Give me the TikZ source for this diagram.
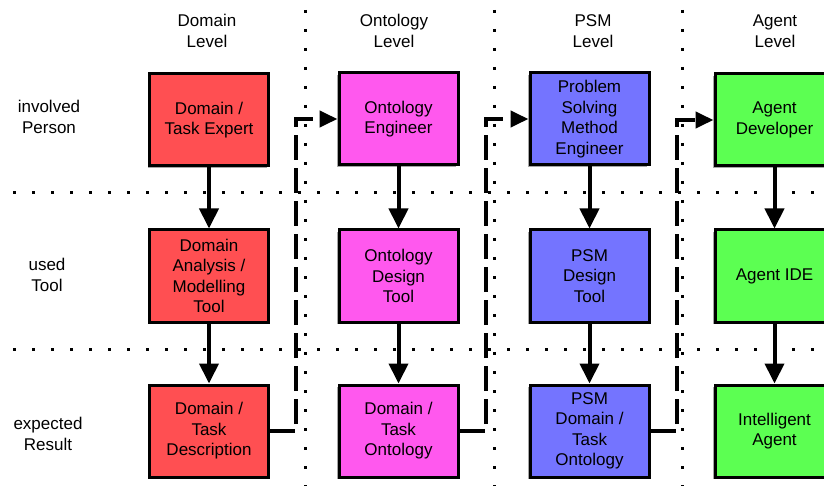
\documentclass[tikz,border=0pt]{standalone}
\usepackage{fontspec}
\setmainfont{Liberation Sans}
\usetikzlibrary{arrows.meta,shadows}

\definecolor{domred}{HTML}{FF4F52}
\definecolor{ontomag}{HTML}{FF58EE}
\definecolor{psmblue}{HTML}{7474FF}
\definecolor{agentgreen}{HTML}{5CFF52}

\begin{document}
\begin{tikzpicture}[
x=1pt,y=-1pt,
font=\fontsize{17}{20.5}\selectfont,
box/.style={%
    rectangle,
    minimum width=119pt,
    minimum height=92pt,
    inner sep=1pt,
    align=center,
    line width=3pt,
    draw=black,
    fill=#1,
    drop shadow={shadow xshift=-2pt,shadow yshift=-2pt,fill=black!35,opacity=1},
},
label/.style={%
    align=center,
    inner sep=0pt,
},
flow/.style={%
    line width=4pt,
    -{Triangle[length=20pt,width=19pt]},
},
feedback/.style={%
    line width=4pt,
    dash pattern=on 25pt off 8pt,
    -{Triangle[length=18pt,width=16pt]},
},
separator/.style={%
    line width=3pt,
    dash pattern=on 3pt off 16pt,
},
]
\clip (0,0) rectangle (824,486);

% Separators
\draw[separator] (13,193) -- (824,193);
\draw[separator] (13,349) -- (824,349);
\draw[separator] (305,10) -- (305,486);
\draw[separator] (494,10) -- (494,486);
\draw[separator] (682,10) -- (682,486);

% Headers
\node[label] at (207,31)  (domhead)   {Domain\\Level};
\node[label] at (394,31)  (ontohead)  {Ontology\\Level};
\node[label] at (593,31)  (psmhead)   {PSM\\Level};
\node[label] at (775,31)  (agenthead) {Agent\\Level};

\node[label] at (49,117)  (personrow) {involved\\Person};
\node[label] at (47,275)  (toolrow)   {used\\Tool};
\node[label] at (48,434)  (resultrow) {expected\\Result};

% Nodes
\node[box=domred]     at (209,120)   (domperson)   {Domain /\\Task Expert};
\node[box=domred]     at (209,276)   (domtool)     {Domain\\Analysis /\\Modelling\\Tool};
\node[box=domred]     at (209,431)   (domresult)   {Domain /\\Task\\Description};

\node[box=ontomag]    at (398.5,119) (ontoperson)  {Ontology\\Engineer};
\node[box=ontomag]    at (398.5,276) (ontotool)    {Ontology\\Design\\Tool};
\node[box=ontomag]    at (398.5,431) (ontoresult)  {Domain /\\Task\\Ontology};

\node[box=psmblue]    at (589.5,119) (psmperson)   {Problem\\Solving\\Method\\Engineer};
\node[box=psmblue]    at (589.5,276) (psmtool)     {PSM\\Design\\Tool};
\node[box=psmblue]    at (589.5,431) (psmresult)   {PSM\\Domain /\\Task\\Ontology};

\node[box=agentgreen] at (774.5,120) (agentperson) {Agent\\Developer};
\node[box=agentgreen] at (774.5,276) (agenttool)   {Agent IDE};
\node[box=agentgreen] at (774.5,431) (agentresult) {Intelligent\\Agent};

% Lines
\draw[flow] (domperson) -- (domtool);
\draw[flow] (domtool) -- (domresult);
\draw[flow] (ontoperson) -- (ontotool);
\draw[flow] (ontotool) -- (ontoresult);
\draw[flow] (psmperson) -- (psmtool);
\draw[flow] (psmtool) -- (psmresult);
\draw[flow] (agentperson) -- (agenttool);
\draw[flow] (agenttool) -- (agentresult);

\draw[feedback] (domresult.east) -- ++(26,0) |- (ontoperson.west);
\draw[feedback] (ontoresult.east) -- ++(26,0) |- (psmperson.west);
\draw[feedback] (psmresult.east) -- ++(26,0) |- (agentperson.west);
\end{tikzpicture}
\end{document}
